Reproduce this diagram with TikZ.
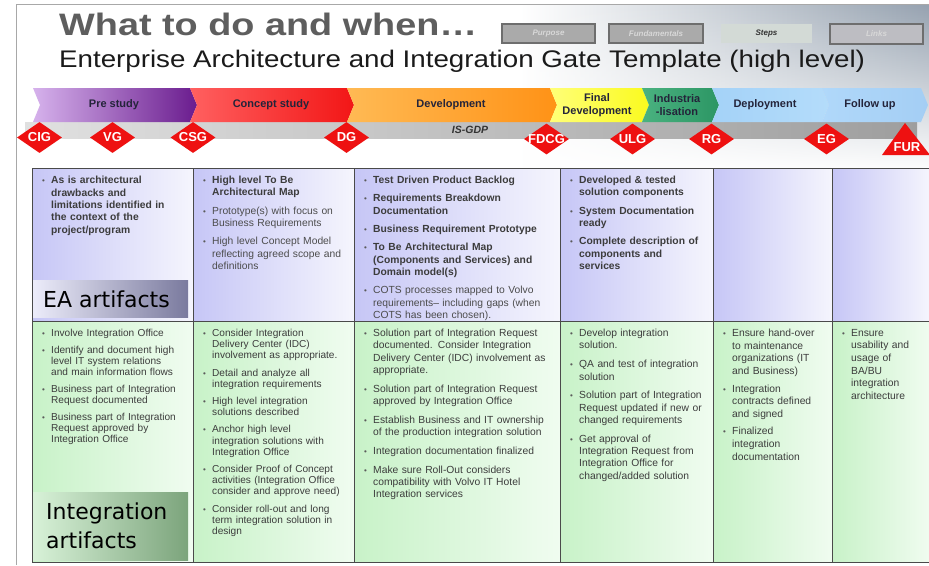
\documentclass[tikz,border=0pt]{standalone}
\usepackage{fontspec}
\setmainfont{Liberation Sans}
\newfontfamily\titlefont[FakeStretch=1.22]{Liberation Sans}
\newfontfamily\subfont[FakeStretch=1.155]{Liberation Sans}
\newfontfamily\dejavu{DejaVu Sans}
\usetikzlibrary{fadings,shapes.geometric}
\tikzfading[name=fadedown, top color=transparent!0, bottom color=transparent!100]

\definecolor{titlegray}{HTML}{5E5E5E}
\definecolor{subblack}{HTML}{1A1A1A}
\definecolor{framegray}{HTML}{A8A8A8}
\definecolor{bgmid}{HTML}{E6E9ED}
\definecolor{bgblue}{HTML}{96A2B0}
\definecolor{btnfill}{HTML}{AAAAAA}
\definecolor{btnborder}{HTML}{6E6E6E}
\definecolor{btntext}{HTML}{D8D8D8}
\definecolor{stepsfill}{HTML}{D3DAD6}
\definecolor{linksfill}{HTML}{BDBDC2}
\definecolor{phasetext}{HTML}{24243A}
\definecolor{gatered}{HTML}{EE1111}
\definecolor{eaL}{HTML}{C6C6F6}
\definecolor{eaR}{HTML}{F5F5FD}
\definecolor{inL}{HTML}{C8F2C8}
\definecolor{inR}{HTML}{F0FCF0}
\definecolor{gridgray}{HTML}{4A4A4A}
\definecolor{bodytext}{HTML}{3C3C3C}
\definecolor{regtext}{HTML}{4C4C4C}
\definecolor{bulgray}{HTML}{5A5A5A}

\newlength\itemgap
\newcommand{\nl}{\hfil\break}
\newcommand{\bul}{\hbox to 10pt{\hskip1pt\textcolor{bulgray}{\fontsize{8}{8}\selectfont\textbullet}\hss}}
\newcommand{\firstitem}[1]{\noindent\hangindent=10pt\hangafter=1\bul#1\par}
\newcommand{\nextitem}[1]{\vspace{\itemgap}\noindent\hangindent=10pt\hangafter=1\bul#1\par}
\newcommand{\rg}[1]{\textcolor{regtext}{#1}}

\begin{document}
\begin{tikzpicture}[x=1pt,y=-1pt,
  btn/.style={draw=btnborder, line width=1.1pt, fill=btnfill, minimum width=93pt, minimum height=19pt, inner sep=0pt, text=btntext, font=\bfseries\itshape\fontsize{8}{8}\selectfont},
  phaselbl/.style={inner sep=0pt, text=phasetext, align=center, font=\bfseries\fontsize{11}{13}\selectfont},
  gate/.style={diamond, fill=gatered, minimum width=45pt, minimum height=31pt, inner sep=0pt},
  gatetxt/.style={inner sep=0pt, text=white, font=\bfseries\fontsize{13}{13}\selectfont},
  cell/.style={anchor=north west, inner sep=0pt, text=bodytext},
  grid/.style={draw=gridgray, line width=0.8pt},
  bigtxt/.style={inner sep=0pt, anchor=base west, text=black, font=\dejavu\fontsize{22}{29}\selectfont}
]
\useasboundingbox (0,0) rectangle (929,565);
\fill[white] (0,0) rectangle (929,565);

% background photo impression
\shade[left color=white, middle color=bgmid, right color=bgblue, path fading=fadedown] (520,5) rectangle (929,172);

% slide frame
\draw[framegray, line width=0.8pt] (16,565) -- (16,4) -- (929,4);

% title
\node[anchor=base west, inner sep=0pt, text=titlegray, font=\titlefont\bfseries\fontsize{31}{31}\selectfont] (title) at (59,35) {What to do and when…};
\node[anchor=base west, inner sep=0pt, text=subblack, font=\subfont\fontsize{24}{24}\selectfont] (subtitle) at (59,67) {Enterprise Architecture and Integration Gate Template (high level)};

% buttons
\node[btn] (purpose) at (548.5,33.5) {Purpose};
\node[btn, minimum width=94pt] (fund) at (656,33.5) {Fundamentals};
\node[btn, draw=none, fill=stepsfill, minimum width=91pt, text=black!80] (steps) at (766.5,33.5) {Steps};
\node[btn, fill=linksfill, minimum height=20pt] (links) at (876.5,34) {Links};

% gray IS-GDP bar
\shade[left color=black!12, right color=black!38] (25,122) rectangle (917,138);
\node[inner sep=0pt, text=black!80, font=\bfseries\itshape\fontsize{10.5}{10.5}\selectfont] (isgdp) at (470,130) {IS-GDP};

% phase chevrons
\shade[left color={rgb,255:red,214;green,178;blue,236}, right color={rgb,255:red,106;green,28;blue,142}]
  (33,88) -- (190,88) -- (197,105) -- (190,122) -- (33,122) -- (40,105) -- cycle;
\shade[left color={rgb,255:red,255;green,96;blue,96}, right color={rgb,255:red,242;green,22;blue,22}]
  (190,88) -- (347,88) -- (354,105) -- (347,122) -- (190,122) -- (197,105) -- cycle;
\shade[left color={rgb,255:red,255;green,186;blue,84}, right color={rgb,255:red,255;green,146;blue,22}]
  (347,88) -- (550,88) -- (557,105) -- (550,122) -- (347,122) -- (354,105) -- cycle;
\shade[left color={rgb,255:red,255;green,255;blue,120}, right color={rgb,255:red,250;green,250;blue,30}]
  (550,88) -- (642,88) -- (649,105) -- (642,122) -- (550,122) -- (557,105) -- cycle;
\shade[left color={rgb,255:red,74;green,178;blue,128}, right color={rgb,255:red,44;green,150;blue,100}]
  (642,88) -- (712,88) -- (719,105) -- (712,122) -- (642,122) -- (649,105) -- cycle;
\shade[left color={rgb,255:red,164;green,210;blue,248}, right color={rgb,255:red,180;green,220;blue,250}]
  (712,88) -- (822,88) -- (829,105) -- (822,122) -- (712,122) -- (719,105) -- cycle;
\shade[left color={rgb,255:red,176;green,216;blue,250}, right color={rgb,255:red,164;green,206;blue,244}]
  (822,88) -- (921,88) -- (928,105) -- (921,122) -- (822,122) -- (829,105) -- cycle;

\node[phaselbl] (pre) at (114,105) {Pre study};
\node[phaselbl] (concept) at (271,105) {Concept study};
\node[phaselbl] (dev) at (451,105) {Development};
\node[phaselbl] (final) at (597,105.5) {Final\\Development};
\node[phaselbl] (indus) at (677,105) {Industria\\-lisation};
\node[phaselbl] (deploy) at (765,105) {Deployment};
\node[phaselbl] (follow) at (870,105) {Follow up};

% gates
\node[gate] (cig) at (39.5,137.5) {};
\node[gatetxt] (cigt) at (cig) {CIG};
\node[gate] (vg) at (112.5,137.5) {};
\node[gatetxt] (vgt) at (vg) {VG};
\node[gate] (csg) at (193,137.5) {};
\node[gatetxt] (csgt) at (csg) {CSG};
\node[gate] (dg) at (346.5,137.5) {};
\node[gatetxt] (dgt) at (dg) {DG};
\node[gate] (fdcg) at (546.5,139) {};
\node[gatetxt] (fdcgt) at (fdcg) {FDCG};
\node[gate] (ulg) at (632.5,139) {};
\node[gatetxt] (ulgt) at (ulg) {ULG};
\node[gate] (rg) at (711.5,139) {};
\node[gatetxt] (rgt) at (rg) {RG};
\node[gate] (eg) at (826.5,139) {};
\node[gatetxt] (egt) at (eg) {EG};
\fill[gatered] (905,123) -- (930,155) -- (882,155) -- cycle;
\node[gatetxt] (furt) at (907,147) {FUR};

% table cells
\shade[left color=eaL, right color=eaR] (32,168) rectangle (193,321);
\shade[left color=eaL, right color=eaR] (193,168) rectangle (354,321);
\shade[left color=eaL, right color=eaR] (354,168) rectangle (560,321);
\shade[left color=eaL, right color=eaR] (560,168) rectangle (713,321);
\shade[left color=eaL, right color=eaR] (713,168) rectangle (832,321);
\shade[left color=eaL, right color=eaR] (832,168) rectangle (930,321);
\shade[left color=inL, right color=inR] (32,321) rectangle (193,562);
\shade[left color=inL, right color=inR] (193,321) rectangle (354,562);
\shade[left color=inL, right color=inR] (354,321) rectangle (560,562);
\shade[left color=inL, right color=inR] (560,321) rectangle (713,562);
\shade[left color=inL, right color=inR] (713,321) rectangle (832,562);
\shade[left color=inL, right color=inR] (832,321) rectangle (930,562);

% artifact labels
\shade[left color={rgb,255:red,236;green,236;blue,250}, right color={rgb,255:red,122;green,122;blue,158}] (33,280) rectangle (188,317);
\node[bigtxt] (eaart) at (43,307) {EA artifacts};
\shade[left color={rgb,255:red,216;green,242;blue,216}, right color={rgb,255:red,124;green,164;blue,124}] (33,492) rectangle (188,560);
\node[bigtxt] (intart1) at (46,519) {Integration};
\node[bigtxt] (intart2) at (46,548) {artifacts};

% grid
\draw[grid] (930,168) -- (32,168) -- (32,562) -- (930,562);
\draw[grid] (32,321) -- (930,321);
\foreach \gx in {193,354,560,713,832} { \draw[grid] (\gx,168) -- (\gx,562); }

% EA row texts
\setlength\itemgap{6pt}
\node[cell, text width=150pt, font=\fontsize{10.3}{12.4}\selectfont] (ea1) at (41,176) {%
\firstitem{\textbf{As is architectural\nl drawbacks and\nl limitations identified in\nl the context of the\nl project/program}}};
\node[cell, text width=150pt, font=\fontsize{10.3}{12.3}\selectfont] (ea2) at (202,176) {%
\firstitem{\textbf{High level To Be\nl Architectural Map}}%
\nextitem{\rg{Prototype(s) with focus on\nl Business Requirements}}%
\nextitem{\rg{High level Concept Model\nl reflecting agreed scope and\nl definitions}}};
\node[cell, text width=195pt, font=\fontsize{10.3}{12.3}\selectfont] (ea3) at (363,176) {%
\firstitem{\textbf{Test Driven Product Backlog}}%
\nextitem{\textbf{Requirements Breakdown\nl Documentation}}%
\nextitem{\textbf{Business Requirement Prototype}}%
\nextitem{\textbf{To Be Architectural Map\nl (Components and Services) and\nl Domain model(s)}}%
\nextitem{\rg{COTS processes mapped to Volvo\nl requirements– including gaps (when\nl COTS has been chosen).}}};
\node[cell, text width=145pt, font=\fontsize{10.3}{12.3}\selectfont] (ea4) at (569,176) {%
\firstitem{\textbf{Developed \& tested\nl solution components}}%
\nextitem{\textbf{System Documentation\nl ready}}%
\nextitem{\textbf{Complete description of\nl components and\nl services}}};

% Integration row texts
\node[cell, text width=150pt, font=\fontsize{10.1}{11.2}\selectfont] (in1) at (41,329) {%
\setlength\itemgap{5.5pt}%
\firstitem{Involve Integration Office}%
\nextitem{Identify and document high\nl level IT system relations\nl and main information flows}%
\nextitem{Business part of Integration\nl Request documented}%
\nextitem{Business part of Integration\nl Request approved by\nl Integration Office}};
\node[cell, text width=150pt, font=\fontsize{10.1}{11.2}\selectfont] (in2) at (202,329) {%
\setlength\itemgap{6pt}%
\firstitem{Consider Integration\nl Delivery Center (IDC)\nl involvement as appropriate.}%
\nextitem{Detail and analyze all\nl integration requirements}%
\nextitem{High level integration\nl solutions described}%
\nextitem{Anchor high level\nl integration solutions with\nl Integration Office}%
\nextitem{Consider Proof of Concept\nl activities (Integration Office\nl consider and approve need)}%
\nextitem{Consider roll-out and long\nl term integration solution in\nl design}};
\node[cell, text width=195pt, font=\fontsize{10.3}{12.3}\selectfont] (in3) at (363,329) {%
\setlength\itemgap{6.5pt}%
\firstitem{Solution part of Integration Request\nl documented. Consider Integration\nl Delivery Center (IDC) involvement as\nl appropriate.}%
\nextitem{Solution part of Integration Request\nl approved by Integration Office}%
\nextitem{Establish Business and IT ownership\nl of the production integration solution}%
\nextitem{Integration documentation finalized}%
\nextitem{Make sure Roll-Out considers\nl compatibility with Volvo IT Hotel\nl Integration services}};
\node[cell, text width=145pt, font=\fontsize{10.3}{12.3}\selectfont] (in4) at (569,329) {%
\setlength\itemgap{6.5pt}%
\firstitem{Develop integration\nl solution.}%
\nextitem{QA and test of integration\nl solution}%
\nextitem{Solution part of Integration\nl Request updated if new or\nl changed requirements}%
\nextitem{Get approval of\nl Integration Request from\nl Integration Office for\nl changed/added solution}};
\node[cell, text width=112pt, font=\fontsize{10.3}{12.6}\selectfont] (in5) at (722,329) {%
\setlength\itemgap{5pt}%
\firstitem{Ensure hand-over\nl to maintenance\nl organizations (IT\nl and Business)}%
\nextitem{Integration\nl contracts defined\nl and signed}%
\nextitem{Finalized\nl integration\nl documentation}};
\node[cell, text width=90pt, font=\fontsize{10.3}{12.6}\selectfont] (in6) at (841,329) {%
\firstitem{Ensure\nl usability and\nl usage of\nl BA/BU\nl integration\nl architecture}};
\end{tikzpicture}
\end{document}
